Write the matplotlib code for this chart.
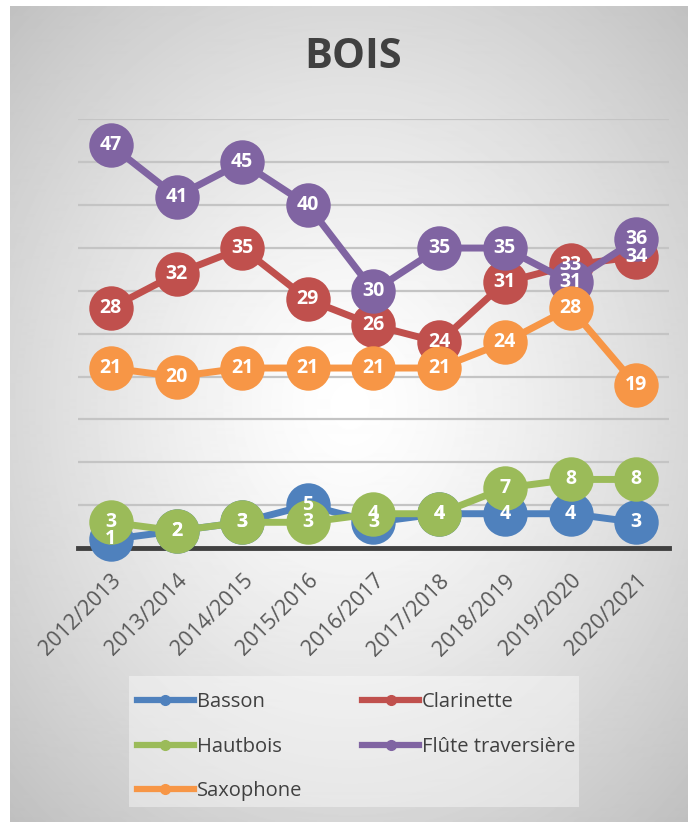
import numpy as np
import matplotlib.pyplot as plt
from matplotlib.patches import Rectangle
from matplotlib.lines import Line2D

plt.rcParams['font.family'] = ['Open Sans', 'DejaVu Sans']

# données
saisons = ['2012/2013', '2013/2014', '2014/2015', '2015/2016', '2016/2017',
           '2017/2018', '2018/2019', '2019/2020', '2020/2021']
basson = [1, 2, 3, 5, 3, 4, 4, 4, 3]
clarinette = [28, 32, 35, 29, 26, 24, 31, 33, 34]
hautbois = [3, 2, 3, 3, 4, 4, 7, 8, 8]
flute = [47, 41, 45, 40, 30, 35, 35, 31, 36]
saxophone = [21, 20, 21, 21, 21, 21, 24, 28, 19]

series = [
    ('Basson', basson, '#4f81bd'),
    ('Clarinette', clarinette, '#c0504d'),
    ('Hautbois', hautbois, '#9bbb59'),
    ('Flûte traversière', flute, '#8064a2'),
    ('Saxophone', saxophone, '#f79646'),
]

W, H = 688, 822
fig = plt.figure(figsize=(W / 100, H / 100), dpi=100)
fig.patch.set_facecolor('white')

# fond en dégradé radial
bg = fig.add_axes([10 / W, 0, 1 - 10 / W, 1 - 6 / H], zorder=0)
yy, xx = np.mgrid[0:816, 0:678]
r = np.hypot(xx - 340, (yy - 400) * 0.85)
r = r / r.max()
img = 1 - 0.25 * r ** 1.3
bg.imshow(img, cmap='gray', vmin=0, vmax=1, aspect='auto', interpolation='bilinear')
bg.axis('off')

# encadré de la légende
fig.patches.append(Rectangle((129 / W, 1 - 807 / H), 450 / W, 131 / H,
                             transform=fig.transFigure, facecolor='white',
                             alpha=0.4, edgecolor='none', zorder=1))

ax = fig.add_axes([78 / W, 1 - 548 / H, 591 / W, 428.5 / H], zorder=2)
ax.patch.set_alpha(0)
x = np.arange(len(saisons))

for nom, vals, col in series:
    ax.plot(x, vals, color=col, lw=5, marker='o', markersize=32,
            markeredgewidth=0, clip_on=False, zorder=3)

for nom, vals, col in series:
    for xi, v in zip(x, vals):
        ax.text(xi, v, str(v), color='white', fontsize=14, fontweight='bold',
                ha='center', va='center', zorder=5)

ax.set_xlim(-0.5, len(saisons) - 0.5)
ax.set_ylim(0, 50)
ax.set_yticks(np.arange(5, 51, 5))
ax.yaxis.grid(True, color='#c4c4c4', lw=1.6)
ax.set_axisbelow(True)
ax.axhline(0, color='#404040', lw=3.5, zorder=2, clip_on=False)
ax.tick_params(axis='y', left=False, labelleft=False)
ax.tick_params(axis='x', length=0, pad=16)
ax.set_xticks(x)
ax.set_xticklabels(saisons, rotation=45, ha='right', va='top',
                   rotation_mode='anchor', fontsize=15.5, color='#595959')
for s in ax.spines.values():
    s.set_visible(False)

fig.text(353 / W, 1 - 57 / H, 'BOIS', fontsize=30, fontweight='bold',
         color='#404040', ha='center', va='center')

# légende remplie par lignes (ordre Excel)
ordre = [0, 2, 4, 1, 3]
handles = [Line2D([], [], color=series[i][2], lw=4.5, marker='o', markersize=7)
           for i in ordre]
labels = [series[i][0] for i in ordre]
fig.legend(handles, labels, loc='upper left',
           bbox_to_anchor=(121 / W, 1 - 676 / H), ncol=2, frameon=False,
           fontsize=14.5, labelcolor='#404040', handlelength=2.8,
           handletextpad=0.15, columnspacing=3.0, labelspacing=1.22,
           borderaxespad=0, borderpad=0.8)

fig.savefig('out.png', dpi=100)
